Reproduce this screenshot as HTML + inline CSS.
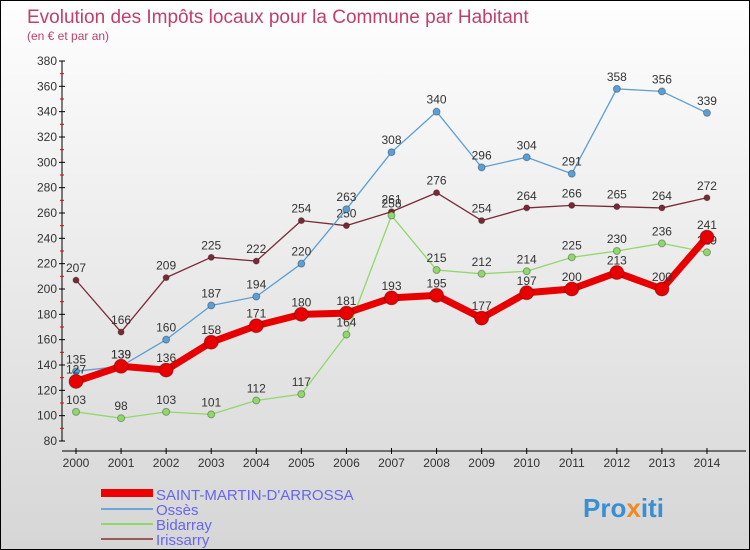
<!DOCTYPE html>
<html><head><meta charset="utf-8"><style>
body{margin:0;width:750px;height:550px;overflow:hidden;font-family:"Liberation Sans",sans-serif}
#wrap{position:absolute;left:0;top:0;width:748px;height:548px;border:1px solid #000;background:linear-gradient(#fefefe,#d6d6d6)}
</style></head><body>
<div id="wrap">
<svg id="svg" width="748" height="548" style="position:absolute;left:0;top:0">
<text x="26" y="22" font-size="19" fill="#c0406a">Evolution des Impôts locaux pour la Commune par Habitant</text>
<text x="26" y="39" font-size="12" fill="#c0406a">(en € et par an)</text>
<g id="axes"></g><g id="series"></g>
<g>
<line x1="100" y1="492" x2="152" y2="492" stroke="#e00" stroke-width="8"/>
<text x="155" y="499" font-size="15" fill="#6666ee">SAINT-MARTIN-D'ARROSSA</text>
<line x1="100" y1="508" x2="152" y2="508" stroke="#6aa7d8" stroke-width="2"/>
<text x="155" y="514" font-size="15" fill="#6666ee">Ossès</text>
<line x1="100" y1="523" x2="152" y2="523" stroke="#8fd86a" stroke-width="2"/>
<text x="155" y="529" font-size="15" fill="#6666ee">Bidarray</text>
<line x1="100" y1="538" x2="152" y2="538" stroke="#9a5a5a" stroke-width="2"/>
<text x="155" y="544" font-size="15" fill="#6666ee">Irissarry</text>
</g>
<text x="582" y="516" font-size="26" font-weight="bold" fill="#3a8fd0">Pro<tspan fill="#f08a20">x</tspan>iti</text>
</svg></div>
<script>
const years=[2000,2001,2002,2003,2004,2005,2006,2007,2008,2009,2010,2011,2012,2013,2014];
const yTicks=[80,100,120,140,160,180,200,220,240,260,280,300,320,340,360,380];
const sma=[127,139,136,158,171,180,181,193,195,177,197,200,213,200,241];
const osses=[135,139,160,187,194,220,263,308,340,296,304,291,358,356,339];
const bidarray=[103,98,103,101,112,117,164,258,215,212,214,225,230,236,229];
const irissarry=[207,166,209,225,222,254,250,261,276,254,264,266,265,264,272];
const NS='http://www.w3.org/2000/svg';
const X=i=>75+i*45.07, Y=v=>440-(v-80)*380/300;
function mk(t,a,p){const e=document.createElementNS(NS,t);for(const k in a)e.setAttribute(k,a[k]);p.appendChild(e);return e;}
const ax=document.getElementById('axes'), sg=document.getElementById('series');
mk('line',{x1:61,y1:60,x2:61,y2:440,stroke:'#000'},ax);
mk('line',{x1:61,y1:450,x2:745,y2:450,stroke:'#000'},ax);
yTicks.forEach(v=>{mk('line',{x1:58,y1:Y(v),x2:64,y2:Y(v),stroke:'#000'},ax);
 if(v<380)mk('line',{x1:59,y1:Y(v+10),x2:63,y2:Y(v+10),stroke:'#e00'},ax);
 const t=mk('text',{x:56,y:Y(v)+4,'font-size':12,fill:'#333','text-anchor':'end'},ax);
 
 
 t.textContent=v;});
years.forEach((y,i)=>{mk('line',{x1:X(i),y1:447,x2:X(i),y2:453,stroke:'#000'},ax);
 const t=mk('text',{x:X(i),y:466,'font-size':12,fill:'#333','text-anchor':'middle'},ax);
 
 
 t.textContent=y;});
function series(d,col,w,r,name){
 const g=mk('g',{},sg);
 
 
 mk('polyline',{points:d.map((v,i)=>X(i)+','+Y(v)).join(' '),fill:'none',stroke:col,'stroke-width':w,'stroke-linejoin':'round'},g);
 d.forEach((v,i)=>{const c=mk('circle',{cx:X(i),cy:Y(v),r:r,fill:col,stroke:'rgba(0,0,0,0.3)'},g);
  
  
  const t=mk('text',{x:X(i),y:Y(v)-8,'font-size':12,fill:'#333','text-anchor':'middle'},g);
  
  
  t.textContent=v;});
}
series(irissarry,'#7a2a34',1.3,3,'irissarry-series');
series(bidarray,'#8fd86a',1.3,3.5,'bidarray-series');
series(osses,'#5a9fd6',1.3,3.5,'osses-series');
series(sma,'#e80000',7,7,'saint-martin-series');
</script>
</body></html>
